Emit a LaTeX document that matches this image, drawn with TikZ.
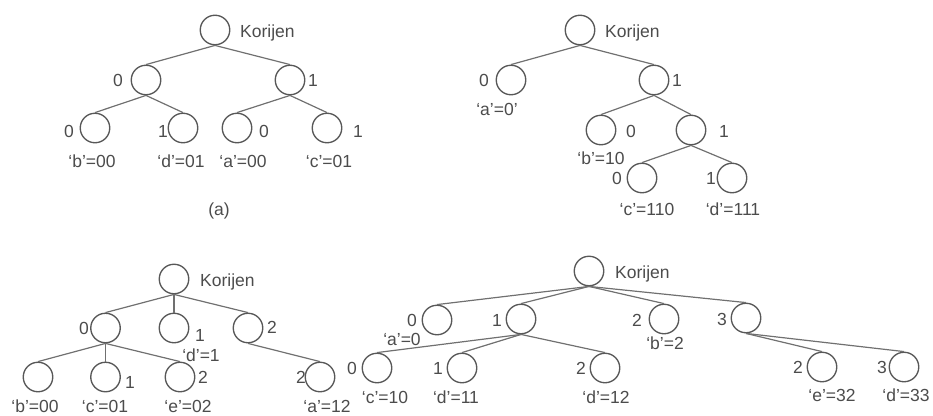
\documentclass[tikz,border=0pt]{standalone}
\usepackage{fontspec}
\setmainfont{Liberation Sans}
\definecolor{inkgray}{HTML}{585858}
\definecolor{wiregray}{HTML}{707070}
\definecolor{txtgray}{HTML}{4C4C4C}
\begin{document}
\begin{tikzpicture}[x=1pt,y=-1pt,
  vtx/.style={circle,draw=inkgray,line width=1.35pt,minimum size=29.5pt,inner sep=0pt},
  edge/.style={draw=wiregray,line width=1.2pt},
  lbl/.style={font=\fontsize{17.5}{20}\selectfont,text=txtgray,inner sep=0pt,
    text height=12.5pt,text depth=0pt},
  root/.style={lbl,anchor=west}]
\useasboundingbox (0,0) rectangle (933,415);

% ---- (a) binary tree with two-bit codes
\node[vtx] (rA) at (215,30) {};
\node[root] (rAt) at (240,31) {Korijen};
\node[vtx] (a0) at (146,80) {};   \node[lbl] (a0l) at (118,80) {0};
\node[vtx] (a1) at (290,80) {};   \node[lbl] (a1l) at (313,80) {1};
\node[vtx] (a00) at (95,128) {};  \node[lbl] (a00l) at (69,131) {0};
\node[vtx] (a01) at (183,128) {}; \node[lbl] (a01l) at (163,131) {1};
\node[vtx] (a10) at (237,128) {}; \node[lbl] (a10l) at (264,131) {0};
\node[vtx] (a11) at (327,128) {}; \node[lbl] (a11l) at (358,131) {1};
\node[lbl] (a00c) at (92,161) {‘b’=00};
\node[lbl] (a01c) at (181,161) {‘d’=01};
\node[lbl] (a10c) at (243,161) {‘a’=00};
\node[lbl] (a11c) at (329,161) {‘c’=01};
\node[lbl] (capA) at (219,209) {(a)};
\draw[edge] (rA.south) -- (a0.north);
\draw[edge] (rA.south) -- (a1.north);
\draw[edge] (a0.south) -- (a00.north);
\draw[edge] (a0.south) -- (a01.north);
\draw[edge] (a1.south) -- (a10.north);
\draw[edge] (a1.south) -- (a11.north);

% ---- variable-length binary code
\node[vtx] (rB) at (580,30) {};
\node[root] (rBt) at (605,31) {Korijen};
\node[vtx] (b0) at (511,80) {};    \node[lbl] (b0l) at (484,80) {0};
\node[lbl] (b0c) at (497,109) {‘a’=0’};
\node[vtx] (b1) at (654,80) {};    \node[lbl] (b1l) at (677,80) {1};
\node[vtx] (b10) at (601,130) {};  \node[lbl] (b10l) at (631,131) {0};
\node[lbl] (b10c) at (601,158) {‘b’=10};
\node[vtx] (b11) at (691,130) {};  \node[lbl] (b11l) at (724,131) {1};
\node[vtx] (b110) at (642,178) {}; \node[lbl] (b110l) at (617,178) {0};
\node[lbl] (b110c) at (647,209) {‘c’=110};
\node[vtx] (b111) at (732,178) {}; \node[lbl] (b111l) at (711,178) {1};
\node[lbl] (b111c) at (733,209) {‘d’=111};
\draw[edge] (rB.south) -- (b0.north);
\draw[edge] (rB.south) -- (b1.north);
\draw[edge] (b1.south) -- (b10.north);
\draw[edge] (b1.south) -- (b11.north);
\draw[edge] (b11.south) -- (b110.north);
\draw[edge] (b11.south) -- (b111.north);

% ---- ternary tree
\node[vtx] (rC) at (174,279) {};
\node[root] (rCt) at (200,280) {Korijen};
\node[vtx] (c0) at (105.5,328) {};  \node[lbl] (c0l) at (84,328) {0};
\node[vtx] (c1) at (174,328) {};  \node[lbl] (c1l) at (200,335) {1};
\node[lbl] (c1c) at (201,355) {‘d’=1};
\node[vtx] (c2) at (248,328) {};  \node[lbl] (c2l) at (272,327) {2};
\node[vtx] (c00) at (38,377) {};
\node[lbl] (c00c) at (35,406) {‘b’=00};
\node[vtx] (c01) at (105.5,377) {}; \node[lbl] (c01l) at (130,382) {1};
\node[lbl] (c01c) at (105,406) {‘c’=01};
\node[vtx] (c02) at (180,377) {}; \node[lbl] (c02l) at (203,377) {2};
\node[lbl] (c02c) at (188,406) {‘e’=02};
\node[vtx] (c21) at (320,377) {}; \node[lbl] (c21l) at (301,377) {2};
\node[lbl] (c21c) at (327,406) {‘a’=12};
\draw[edge] (rC.south) -- (c0.north);
\draw[edge] (rC.south) -- (c1.north);
\draw[edge] (rC.south) -- (c2.north);
\draw[edge] (c0.south) -- (c00.north);
\draw[edge] (c0.south) -- (c01.north);
\draw[edge] (c0.south) -- (c02.north);
\draw[edge] (c2.south) -- (c21.north);

% ---- quaternary tree
\node[vtx] (rD) at (589,271) {};
\node[root] (rDt) at (615,272) {Korijen};
\node[vtx] (d0) at (437,320) {};  \node[lbl] (d0l) at (412,320) {0};
\node[lbl] (d0c) at (402,339) {‘a’=0};
\node[vtx] (d1) at (521,319) {};  \node[lbl] (d1l) at (497,320) {1};
\node[vtx] (d2) at (664,319) {};  \node[lbl] (d2l) at (637,320) {2};
\node[lbl] (d2c) at (665,343) {‘b’=2};
\node[vtx] (d3) at (746,318) {};  \node[lbl] (d3l) at (722,319) {3};
\node[vtx] (d10) at (377,368) {}; \node[lbl] (d10l) at (352,368) {0};
\node[lbl] (d10c) at (385,397) {‘c’=10};
\node[vtx] (d11) at (462,368) {}; \node[lbl] (d11l) at (438,368) {1};
\node[lbl] (d11c) at (456,397) {‘d’=11};
\node[vtx] (d12) at (605,368) {}; \node[lbl] (d12l) at (581,368) {2};
\node[lbl] (d12c) at (606,397) {‘d’=12};
\node[vtx] (d32) at (822,367) {}; \node[lbl] (d32l) at (798,367) {2};
\node[lbl] (d32c) at (832,395) {‘e’=32};
\node[vtx] (d33) at (904,367) {}; \node[lbl] (d33l) at (882,367) {3};
\node[lbl] (d33c) at (906,395) {‘d’=33};
\draw[edge] (rD.south) -- (d0.north);
\draw[edge] (rD.south) -- (d1.north);
\draw[edge] (rD.south) -- (d2.north);
\draw[edge] (rD.south) -- (d3.north);
\draw[edge] (d1.south) -- (d10.north);
\draw[edge] (d1.south) -- (d11.north);
\draw[edge] (d1.south) -- (d12.north);
\draw[edge] (d3.south) -- (d32.north);
\draw[edge] (d3.south) -- (d33.north);
\end{tikzpicture}
\end{document}
